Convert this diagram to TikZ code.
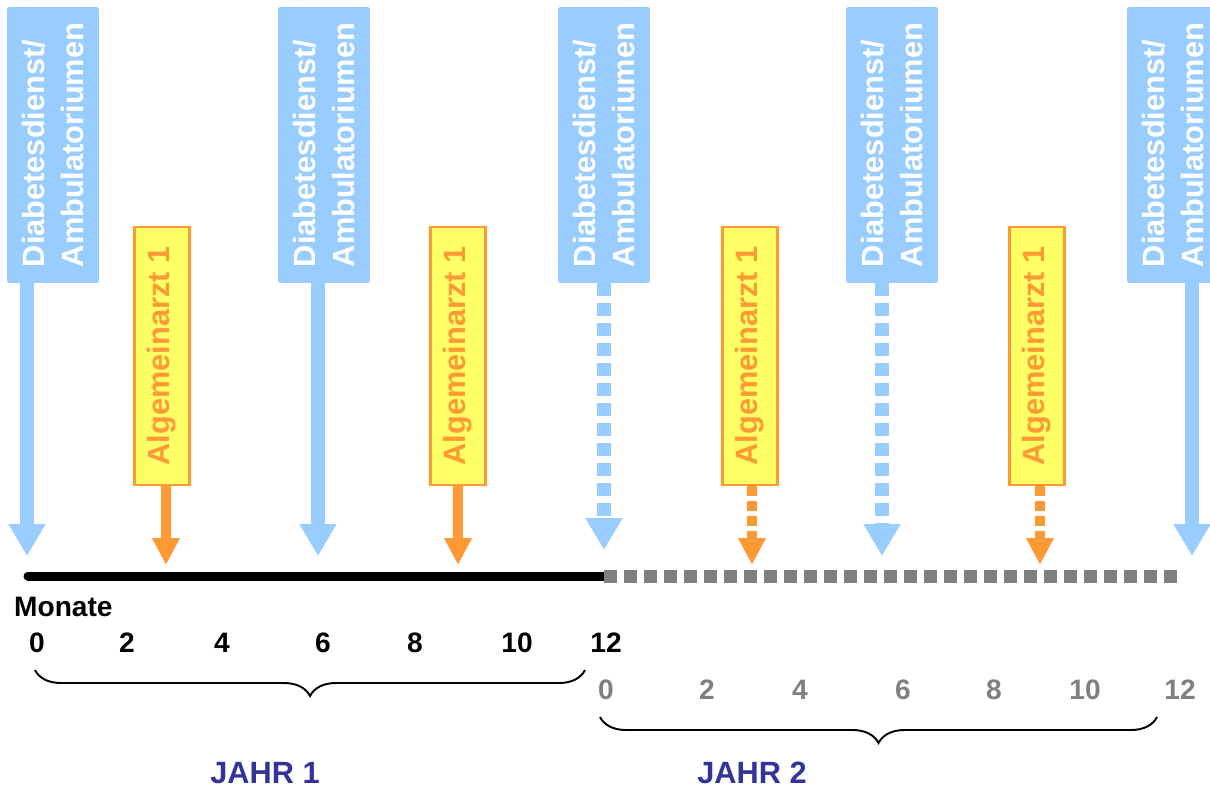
\documentclass[tikz,border=0pt]{standalone}
\usepackage{fontspec}
\setmainfont{Liberation Sans}
\usepackage{xcolor}
\usetikzlibrary{arrows.meta,positioning,decorations.pathreplacing}

\definecolor{dienstblue}{HTML}{99CCFF}
\definecolor{arztorange}{HTML}{FF9933}
\definecolor{arztyellow}{HTML}{FFFF66}
\definecolor{jahrblue}{HTML}{333399}
\definecolor{zeitgray}{HTML}{808080}

\begin{document}
\begin{tikzpicture}[x=0.02cm,y=-0.02cm,
  dienst/.style={rotate=90,fill=dienstblue,rounded corners=1pt,minimum width=5.52cm,
                 minimum height=1.84cm,inner sep=0pt,text=white,align=left,
                 font=\fontsize{17.5}{22.7}\selectfont\bfseries},
  arzt/.style={rotate=90,draw=arztorange,line width=1.2pt,fill=arztyellow,minimum width=5.16cm,
               minimum height=1.1cm,inner sep=0pt,text=arztorange,
               font=\fontsize{17.5}{20}\selectfont\bfseries},
  darr/.style={draw=dienstblue,line width=0.28cm,-{Triangle[width=0.7cm,length=0.64cm]}},
  aarr/.style={draw=arztorange,line width=0.2cm,-{Triangle[width=0.52cm,length=0.54cm]}},
  num/.style={font=\fontsize{16}{19}\selectfont\bfseries},
  jahr/.style={font=\fontsize{17.5}{21}\selectfont\bfseries,text=jahrblue},
  klammer/.style={decorate,decoration={brace,amplitude=0.52cm,mirror},line width=1.1pt}
]
\useasboundingbox (0,0) rectangle (1210,789);

% Diabetesdienst / Ambulatorium
\node[dienst] (d1) at (53,145)   {Diabetesdienst/\\Ambulatoriumen};
\node[dienst] (d2) at (324,145)  {Diabetesdienst/\\Ambulatoriumen};
\node[dienst] (d3) at (604,145)  {Diabetesdienst/\\Ambulatoriumen};
\node[dienst] (d4) at (892,145)  {Diabetesdienst/\\Ambulatoriumen};
\node[dienst] (d5) at (1173,145) {Diabetesdienst/\\Ambulatoriumen};

% Allgemeinarzt
\node[arzt] (a1) at (162,356)  {Algemeinarzt 1};
\node[arzt] (a2) at (458,356)  {Algemeinarzt 1};
\node[arzt] (a3) at (750,356)  {Algemeinarzt 1};
\node[arzt] (a4) at (1037,356) {Algemeinarzt 1};

% Zeitachse
\coordinate (t0)  at (28,576);
\coordinate (t12) at (604,576);
\coordinate (t24) at (1180,576);
\draw[line width=0.18cm,line cap=round] (t0) -- (t12);
\draw[zeitgray,line width=0.26cm,dash pattern=on 0.26cm off 0.14cm] (t12) -- (t24);

% Pfeilspitzen
\coordinate (m0)  at (27,556);
\coordinate (m6)  at (318,556);
\coordinate (m12) at (604,550);
\coordinate (m18) at (882,556);
\coordinate (m24) at (1192,556);
\coordinate (p3)  at (166,565);
\coordinate (p9)  at (458,565);
\coordinate (p15) at (752,565);
\coordinate (p21) at (1040,565);

\draw[darr] (d1.west -| m0) -- (m0);
\draw[darr] (d2.west -| m6) -- (m6);
\draw[darr,dash pattern=on 0.26cm off 0.14cm] (d3.west -| m12) -- (m12);
\draw[darr,dash pattern=on 0.26cm off 0.14cm] (d4.west -| m18) -- (m18);
\draw[darr] (d5.west -| m24) -- (m24);

\draw[aarr] (a1.west -| p3) -- (p3);
\draw[aarr] (a2.west -| p9) -- (p9);
\draw[aarr,dash pattern=on 0.2cm off 0.1cm] (a3.west -| p15) -- (p15);
\draw[aarr,dash pattern=on 0.2cm off 0.1cm] (a4.west -| p21) -- (p21);

% Monate
\node[num,anchor=west] (monate) at (8,607) {Monate};
\node[num] (j1m0)  at (37,643)  {0};
\node[num] (j1m2)  at (127,643) {2};
\node[num] (j1m4)  at (222,643) {4};
\node[num] (j1m6)  at (323,643) {6};
\node[num] (j1m8)  at (415,643) {8};
\node[num] (j1m10) at (517,643) {10};
\node[num] (j1m12) at (606,643) {12};

\node[num,text=zeitgray] (j2m0)  at (606,690)  {0};
\node[num,text=zeitgray] (j2m2)  at (707,690)  {2};
\node[num,text=zeitgray] (j2m4)  at (800,690)  {4};
\node[num,text=zeitgray] (j2m6)  at (903,690)  {6};
\node[num,text=zeitgray] (j2m8)  at (994,690)  {8};
\node[num,text=zeitgray] (j2m10) at (1085,690) {10};
\node[num,text=zeitgray] (j2m12) at (1180,690) {12};

% Jahre
\coordinate (k1l) at (35,670);
\coordinate (k1r) at (585,670);
\coordinate (k2l) at (600,717);
\coordinate (k2r) at (1157,717);
\draw[klammer] (k1l) -- (k1r);
\draw[klammer] (k2l) -- (k2r);

\node[jahr] (jahr1) at (265,773) {JAHR 1};
\node[jahr] (jahr2) at (752,773) {JAHR 2};
\end{tikzpicture}
\end{document}
